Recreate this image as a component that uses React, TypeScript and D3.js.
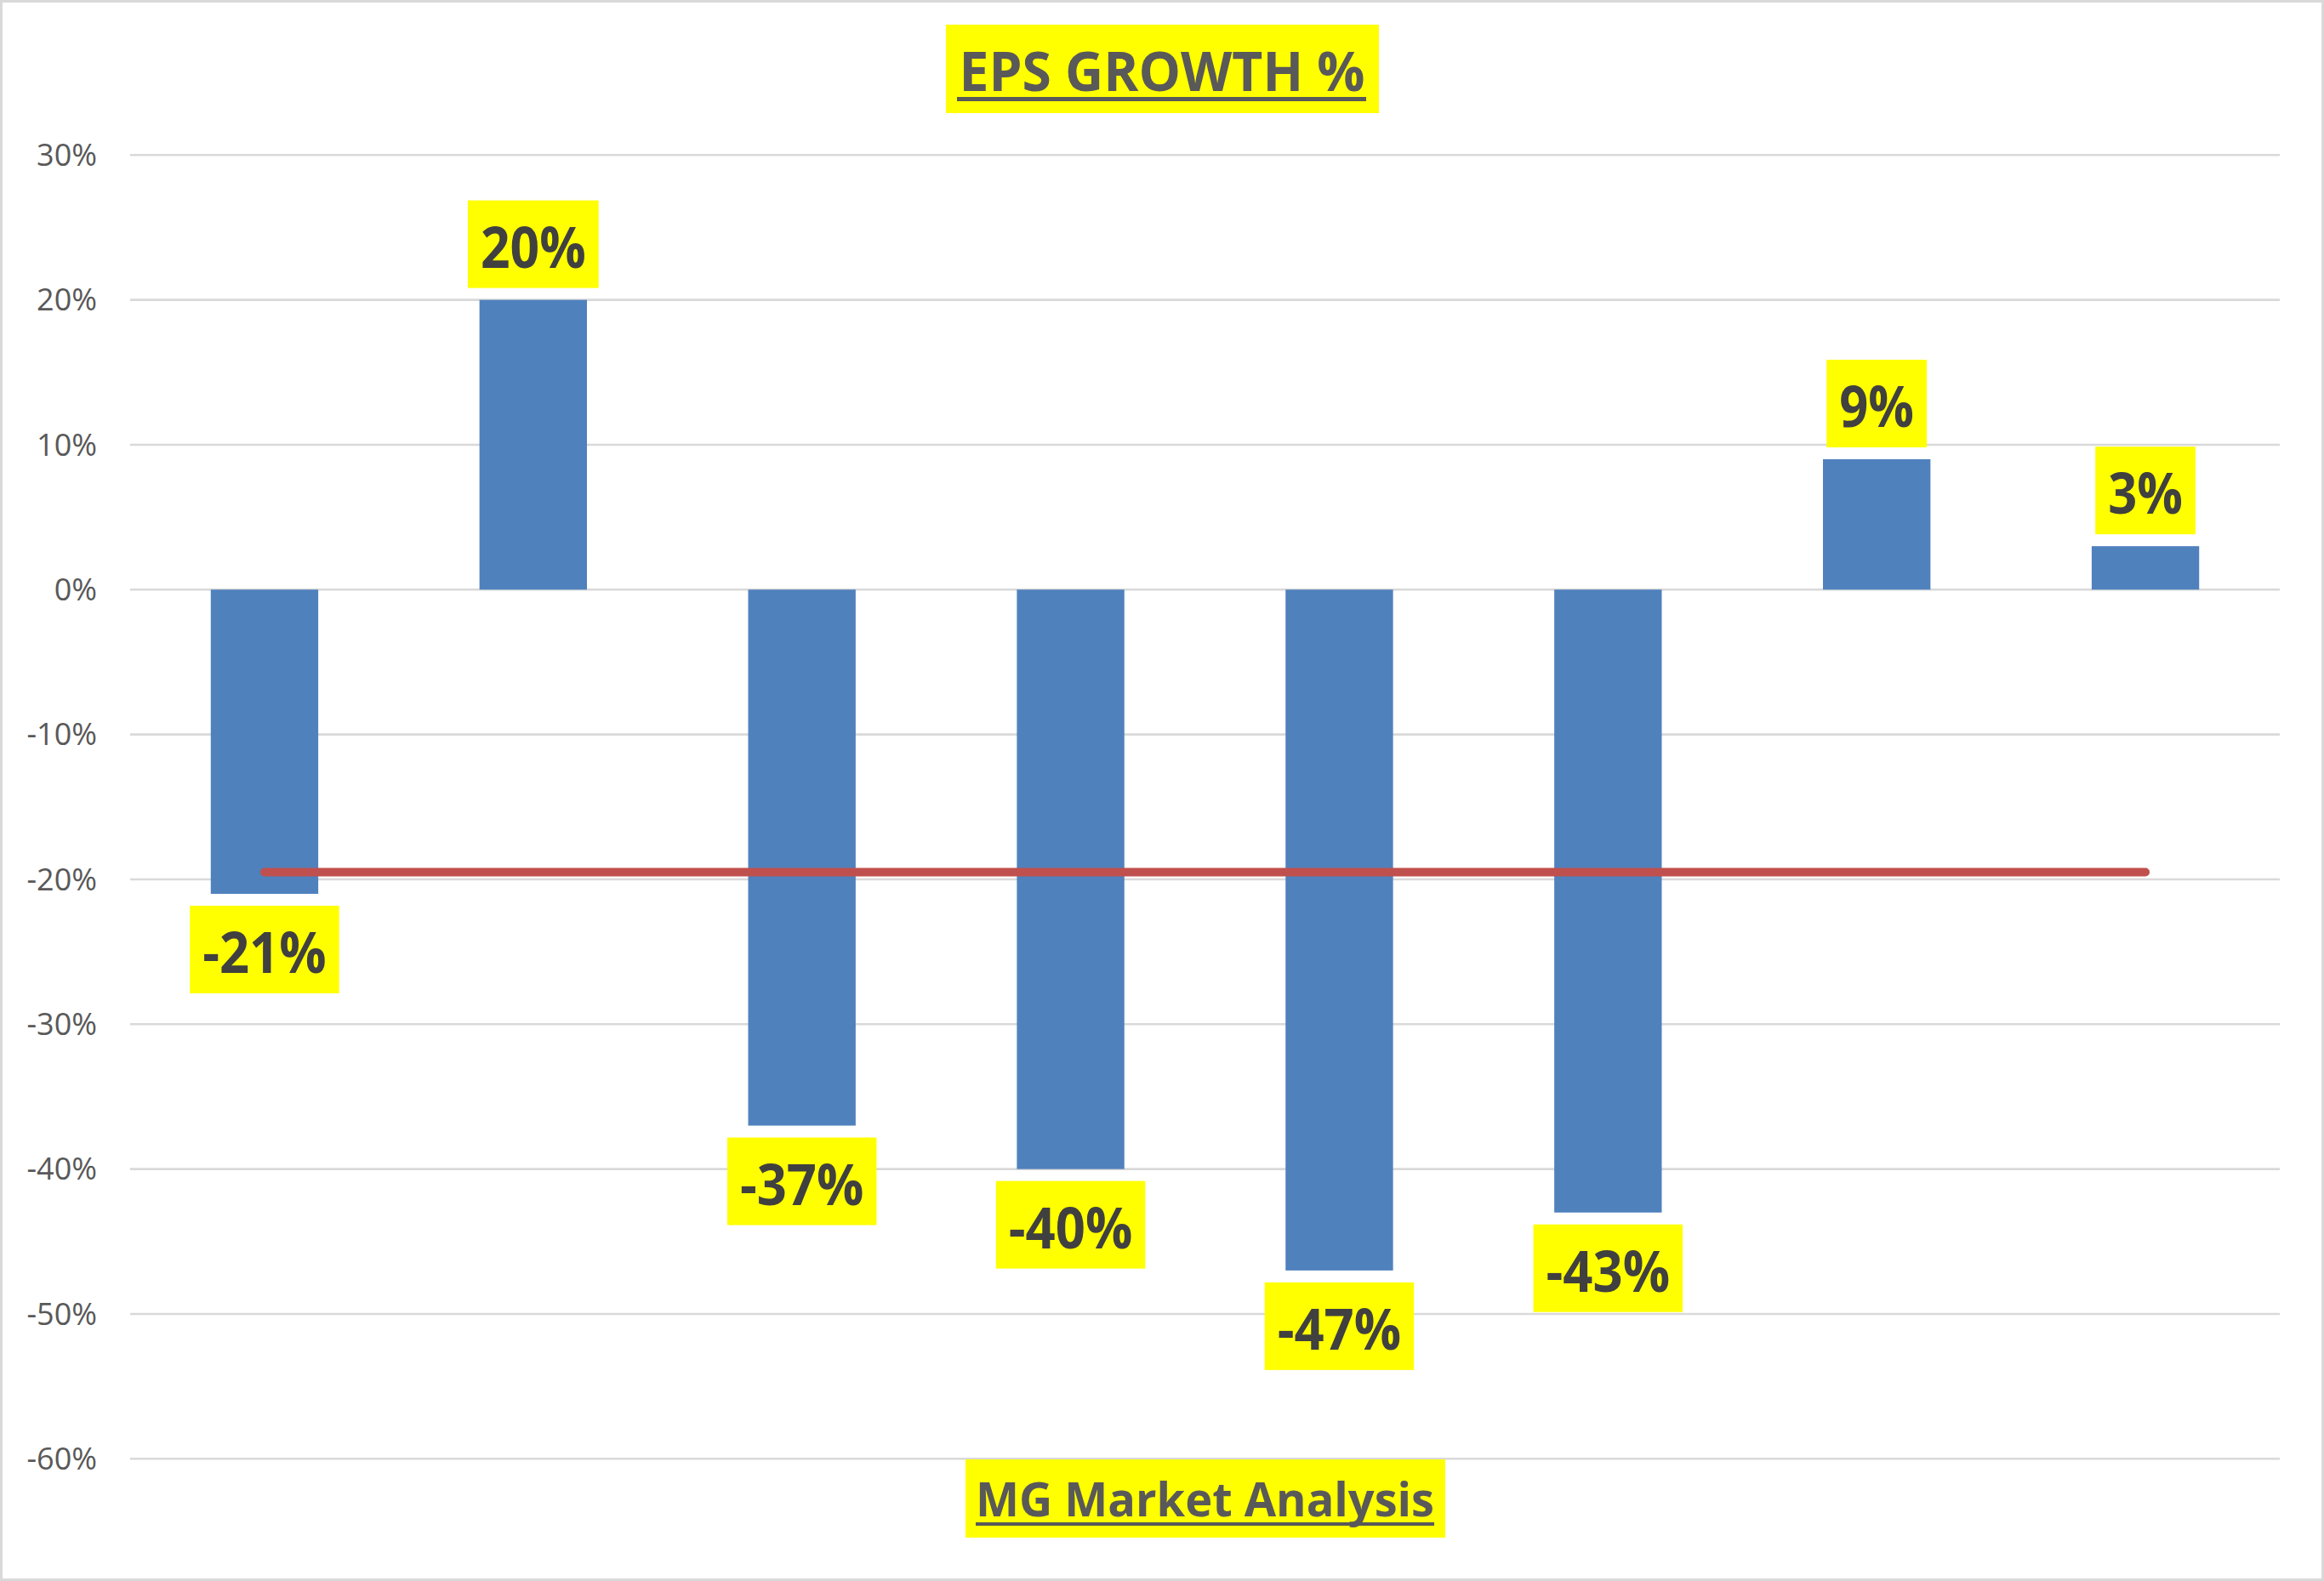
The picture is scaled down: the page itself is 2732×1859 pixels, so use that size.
import React from "react";
import * as d3 from "d3";

const categories = ["P1", "P2", "P3", "P4", "P5", "P6", "P7", "P8"];
const epsGrowth = [-0.21, 0.2, -0.37, -0.4, -0.47, -0.43, 0.09, 0.03];
const yTicks = [0.3, 0.2, 0.1, 0, -0.1, -0.2, -0.3, -0.4, -0.5, -0.6];
const titleText = "EPS GROWTH %";
const footerText = "MG Market Analysis";

const W = 2732;
const H = 1859;
const FONT = "'Open Sans', 'Liberation Sans', sans-serif";

// approximate Calibri bold advance widths (em) used to size label boxes
const cw = (c: string) => (c === "%" ? 0.729 : c === "-" ? 0.306 : 0.507);
const textW = (s: string, size: number) => s.split("").reduce((a, c) => a + cw(c) * size, 0);

export default function App() {
  const x = d3
    .scaleBand<string>()
    .domain(categories)
    .range([153, 2680])
    .paddingInner(0.6)
    .paddingOuter(0.3);
  const y = d3.scaleLinear().domain([-0.6, 0.3]).range([1715.3, 182.3]);
  const f0 = d3.format(".0%");
  const fmt = (v: number) => f0(v).replace("\u2212", "-");
  const mean = d3.mean(epsGrowth) as number;
  const bw = x.bandwidth();
  const labelSize = 71;
  const boxH = 103;
  const gap = 14;

  const first = categories[0];
  const last = categories[categories.length - 1];

  return (
    <svg
      width={W}
      height={H}
      style={{ position: "absolute", left: 0, top: 0, display: "block", background: "#fff" }}
    >
      <rect x={0} y={0} width={W} height={H} fill="#fff" />
      <rect x={1.5} y={1.5} width={W - 3} height={H - 3} fill="none" stroke="#d9d9d9" strokeWidth={3} />

      {/* gridlines */}
      {yTicks.map((t) => (
        <line key={"g" + t} x1={153} x2={2680} y1={y(t)} y2={y(t)} stroke="#d9d9d9" strokeWidth={2.6} />
      ))}
      {/* tick labels */}
      {yTicks.map((t) => (
        <text
          key={"t" + t}
          x={114}
          y={y(t)}
          dy="0.35em"
          textAnchor="end"
          fontFamily={FONT}
          fontSize={36}
          fill="#595959"
        >
          {fmt(t)}
        </text>
      ))}

      {/* bars */}
      {epsGrowth.map((v, i) => {
        const c = categories[i];
        const y0 = y(Math.max(0, v));
        const y1 = y(Math.min(0, v));
        return <rect key={"b" + c} x={x(c)} y={y0} width={bw} height={y1 - y0} fill="#4F81BD" />;
      })}

      {/* average line */}
      <line
        x1={(x(first) as number) + bw / 2}
        x2={(x(last) as number) + bw / 2}
        y1={y(mean)}
        y2={y(mean)}
        stroke="#C0504D"
        strokeWidth={10}
        strokeLinecap="round"
      />

      {/* data labels */}
      {epsGrowth.map((v, i) => {
        const c = categories[i];
        const cx = (x(c) as number) + bw / 2;
        const s = fmt(v);
        const tw = textW(s, labelSize);
        const bwid = tw + 30;
        const top = v >= 0 ? y(v) - gap - boxH : y(v) + gap;
        return (
          <g key={"l" + c}>
            <rect x={cx - bwid / 2} y={top} width={bwid} height={boxH} fill="#FFFF00" />
            <text
              x={cx}
              y={top + boxH - 24}
              textAnchor="middle"
              fontFamily={FONT}
              fontWeight="bold"
              fontSize={66}
              fill="#404040"
              textLength={tw}
              lengthAdjust="spacingAndGlyphs"
            >
              {s}
            </text>
          </g>
        );
      })}

      {/* title */}
      <rect x={1112} y={29} width={509} height={104} fill="#FFFF00" />
      <text
        x={W / 2}
        y={106.7}
        textAnchor="middle"
        fontFamily={FONT}
        fontWeight="bold"
        fontSize={65}
        fill="#595959"
        textLength={477}
        lengthAdjust="spacingAndGlyphs"
      >
        {titleText}
      </text>
      <line x1={1125} x2={1606} y1={116.5} y2={116.5} stroke="#595959" strokeWidth={5} />

      {/* footer */}
      <rect x={1135} y={1716} width={564} height={92} fill="#FFFF00" />
      <text
        x={1416.5}
        y={1783.3}
        textAnchor="middle"
        fontFamily={FONT}
        fontWeight="bold"
        fontSize={56}
        fill="#595959"
        textLength={539}
        lengthAdjust="spacingAndGlyphs"
      >
        {footerText}
      </text>
      <line x1={1147} x2={1686} y1={1792} y2={1792} stroke="#595959" strokeWidth={4} />
    </svg>
  );
}
